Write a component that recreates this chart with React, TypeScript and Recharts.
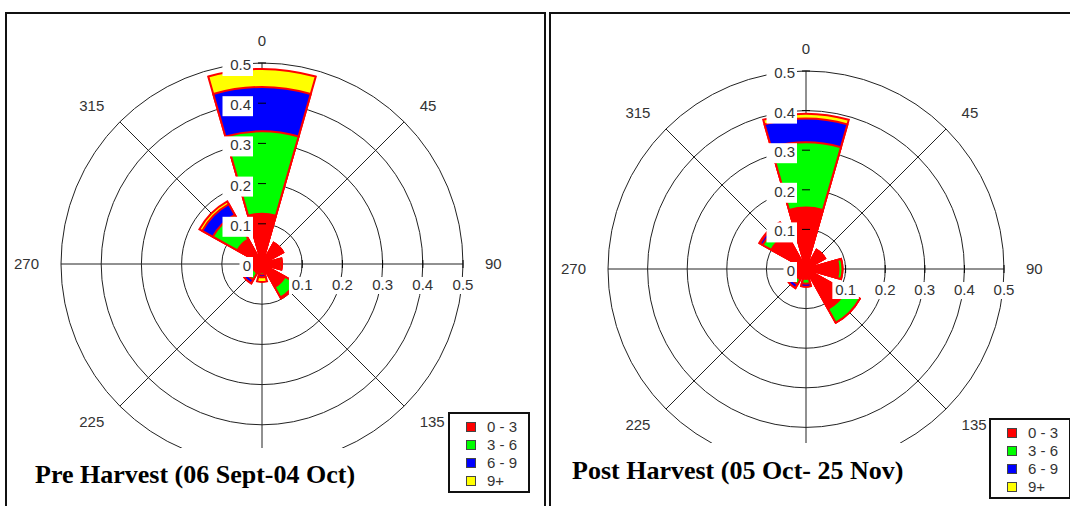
import React from "react";
import {
  RadarChart, Radar, PolarGrid, PolarAngleAxis, PolarRadiusAxis, Legend, Sector
} from "recharts";

// wind direction sectors (degrees clockwise from north)
const DIRS = ["0", "45", "90", "135", "180", "225", "270", "315"];
const SPEED_CLASSES = ["0 - 3", "3 - 6", "6 - 9", "9+"];
const SPEED_COLORS = ["#ff0000", "#00ff00", "#0000ff", "#ffff00"];

// pre harvest frequencies per speed class
const PRE_0_3 = [0.125, 0.06, 0.045, 0.065, 0.02, 0.025, 0.035, 0.07];
const PRE_3_6 = [0.205, 0, 0.005, 0.03, 0.006, 0.02, 0.01, 0.07];
const PRE_6_9 = [0.11, 0, 0, 0.003, 0.007, 0.01, 0, 0.03];
const PRE_9P = [0.045, 0, 0, 0, 0.012, 0, 0, 0.008];

// post harvest frequencies per speed class
const POST_0_3 = [0.155, 0.055, 0.082, 0.115, 0.025, 0.03, 0.045, 0.1];
const POST_3_6 = [0.165, 0, 0.01, 0.04, 0.012, 0.015, 0, 0.025];
const POST_6_9 = [0.06, 0, 0, 0, 0.008, 0.01, 0, 0.008];
const POST_9P = [0.012, 0, 0, 0, 0, 0, 0, 0.002];

const RADIUS_TICKS = [0, 0.1, 0.2, 0.3, 0.4, 0.5];
const PETAL_HALF = 16;

const SANS = "'Liberation Sans', Arial, sans-serif";
const SERIF = "'Liberation Serif', 'Times New Roman', serif";

// cumulative (stacked) totals per direction: c0 = 0-3, c1 = 0-6, c2 = 0-9, c3 = all
const buildRows = (series: number[][]) =>
  DIRS.map((dir, i) => {
    const row: any = { dir };
    let sum = 0;
    series.forEach((s, k) => {
      sum += s[i];
      row["c" + k] = sum;
    });
    return row;
  });

const preRows = buildRows([PRE_0_3, PRE_3_6, PRE_6_9, PRE_9P]);
const postRows = buildRows([POST_0_3, POST_3_6, POST_6_9, POST_9P]);

const petalShape = (fill: string) => (props: any) => {
  const { points } = props;
  return (
    <g>
      {(points || []).map((p: any, i: number) =>
        p.value > 0 ? (
          <Sector
            key={i}
            cx={p.cx}
            cy={p.cy}
            innerRadius={0}
            outerRadius={p.radius}
            startAngle={p.angle - PETAL_HALF}
            endAngle={p.angle + PETAL_HALF}
            fill={fill}
            stroke="#ff0000"
            strokeWidth={2}
          />
        ) : null
      )}
    </g>
  );
};

// labels on the north axis, plus the same radius mirrored on the east axis
const RadiusTick = (props: any) => {
  const { x, y, payload } = props;
  const label = String(payload.value);
  const r = payload.coordinate;
  const w = label.length * 8.5 + 5;
  const ex = x + r;
  const ey = y + r;
  return (
    <g>
      {payload.value > 0 && <line x1={x - 4} x2={x + 4} y1={y} y2={y} stroke="#000" />}
      <rect x={x - 9 - w} y={y - 7} width={w} height={20} fill="#fff" />
      <text x={x - 11} y={y + 7} textAnchor="end" fontSize={15} fontFamily={SANS} fill="#333">
        {label}
      </text>
      {payload.value > 0 && typeof r === "number" && (
        <g>
          <line x1={ex} x2={ex} y1={ey - 4} y2={ey + 4} stroke="#000" />
          <rect x={ex - w / 2 + 2} y={ey + 13} width={w - 4} height={17} fill="#fff" />
          <text x={ex} y={ey + 26} textAnchor="middle" fontSize={15} fontFamily={SANS} fill="#333">
            {label}
          </text>
        </g>
      )}
    </g>
  );
};

const DegreeTick = (props: any) => {
  const { x, y, payload, textAnchor } = props;
  if (payload.value === "180") return <g />;
  return (
    <text x={x} y={y + 5} textAnchor={textAnchor} fontSize={15} fontFamily={SANS} fill="#333">
      {payload.value}
    </text>
  );
};

const SpeedLegend = () => (
  <div
    style={{
      border: "2px solid #111",
      background: "#fff",
      boxSizing: "border-box",
      width: 82,
      height: 81,
      padding: "4px 0 0 16px",
      fontFamily: SANS,
      fontSize: 15,
      color: "#333",
      lineHeight: "18px",
    }}
  >
    {SPEED_CLASSES.map((s, i) => (
      <div key={s} style={{ display: "flex", alignItems: "center", height: 18 }}>
        <span
          style={{
            display: "inline-block",
            width: 8,
            height: 8,
            background: SPEED_COLORS[i],
            border: "1px solid #444",
            marginRight: 11,
          }}
        />
        {s}
      </div>
    ))}
  </div>
);

function WindRose({ rows, width, height, cx, cy, outerRadius, legendLeft, legendTop }: any) {
  return (
    <RadarChart
      width={width}
      height={height}
      data={rows}
      cx={cx}
      cy={cy}
      outerRadius={outerRadius}
      startAngle={90}
      endAngle={-270}
      margin={{ top: 0, right: 0, bottom: 0, left: 0 }}
    >
      <PolarAngleAxis
        dataKey="dir"
        axisLine={false}
        tickLine={false}
        tickSize={22}
        tick={DegreeTick}
      />
      {[3, 2, 1, 0].map((k) => (
        <Radar
          key={k}
          dataKey={"c" + k}
          name={SPEED_CLASSES[k]}
          fill={SPEED_COLORS[k]}
          stroke="#ff0000"
          dot={false}
          shape={petalShape(SPEED_COLORS[k])}
          isAnimationActive={false}
        />
      ))}
      <PolarGrid gridType="circle" stroke="#222" strokeOpacity={1} />
      <PolarRadiusAxis
        type="number"
        domain={[0, 0.5]}
        ticks={RADIUS_TICKS}
        tickCount={6}
        allowDecimals
        allowDataOverflow
        angle={90}
        axisLine={false}
        tick={RadiusTick}
      />
      <Legend
        layout="vertical"
        align="right"
        verticalAlign="top"
        content={() => <SpeedLegend />}
        wrapperStyle={{ left: legendLeft, top: legendTop, right: "auto", bottom: "auto", width: 82 }}
      />
    </RadarChart>
  );
}

export default function App() {
  return (
    <div style={{ position: "absolute", left: 0, top: 0, width: 1070, height: 506, overflow: "hidden", background: "#fff" }}>
      <div style={{ position: "absolute", left: 5, top: 12, width: 541, height: 510, border: "2px solid #111", boxSizing: "border-box" }} />
      <div style={{ position: "absolute", left: 549, top: 12, width: 540, height: 510, border: "2px solid #111", boxSizing: "border-box" }} />

      <div style={{ position: "absolute", left: 0, top: 0 }}>
        <WindRose rows={preRows} width={545} height={448} cx={262} cy={264} outerRadius={201} legendLeft={448} legendTop={412} />
      </div>
      <div style={{ position: "absolute", left: 549, top: 0 }}>
        <WindRose rows={postRows} width={519} height={443} cx={257} cy={269} outerRadius={198} legendLeft={440} legendTop={418} />
      </div>

      <div style={{ position: "absolute", left: 35, top: 462, fontFamily: SERIF, fontWeight: "bold", fontSize: 26, lineHeight: "26px", whiteSpace: "nowrap", color: "#000" }}>
        Pre Harvest (06 Sept-04 Oct)
      </div>
      <div style={{ position: "absolute", left: 572, top: 458, fontFamily: SERIF, fontWeight: "bold", fontSize: 26, lineHeight: "26px", whiteSpace: "nowrap", color: "#000" }}>
        Post Harvest (05 Oct- 25 Nov)
      </div>
    </div>
  );
}
